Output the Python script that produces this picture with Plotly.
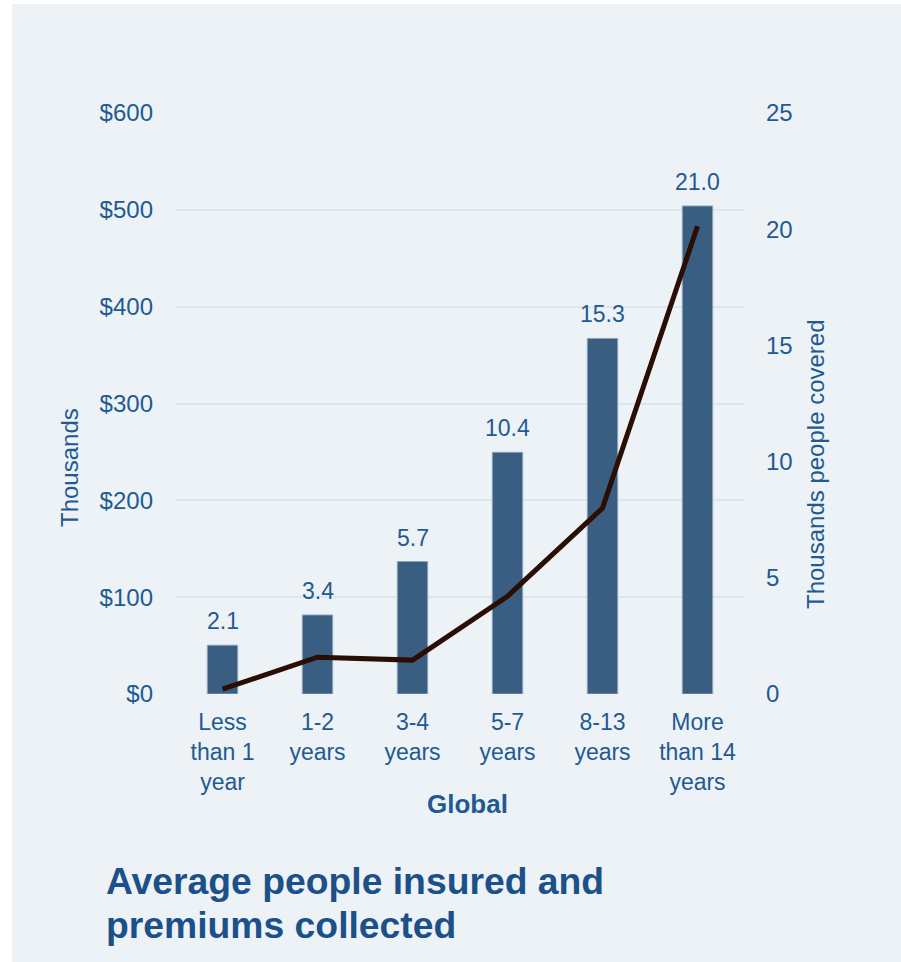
import plotly.graph_objects as go

categories = ["Less<br>than 1<br>year", "1-2<br>years", "3-4<br>years", "5-7<br>years", "8-13<br>years", "More<br>than 14<br>years"]
people_covered = [2.1, 3.4, 5.7, 10.4, 15.3, 21.0]          # thousands (right axis)
premiums = [5, 38, 35, 101, 192, 483]                        # $ thousands (left axis)
left_ticks = [0, 100, 200, 300, 400, 500, 600]
right_ticks = [0, 5, 10, 15, 20, 25]

TXT = "#1F5A92"
BG = "#EDF2F7"
FONT = "Liberation Sans, Arial, sans-serif"
FS = 23

# plot area spans page x 175-745, y 113-694
W, H = 901, 962
L, T = 175, 113
PW, PH = 570, 581
R, B = W - L - PW, H - T - PH

def px(xpage):
    return (xpage - L) / PW

def py(ypage):
    return (T + PH - ypage) / PH

fig = go.Figure()
fig.add_trace(go.Bar(
    x=categories, y=people_covered, yaxis="y",
    marker=dict(color="#3A5E81", line=dict(color="#8EA5BD", width=1)),
    showlegend=False, hoverinfo="skip",
))
fig.add_trace(go.Scatter(
    x=categories, y=premiums, yaxis="y2", mode="lines",
    line=dict(color="#2A0D03", width=5), showlegend=False,
))

annotations = [
    dict(text=f"{v:.1f}", x=c, y=v, xref="x", yref="y", yanchor="bottom",
         yshift=9, showarrow=False, font=dict(size=FS, color=TXT))
    for c, v in zip(categories, people_covered)
]
annotations += [
    dict(text="Thousands", xref="paper", yref="paper", x=px(70), y=py(468),
         xanchor="center", yanchor="middle",
         textangle=-90, showarrow=False, font=dict(size=24, color=TXT)),
    dict(text="Thousands people covered", xref="paper", yref="paper", x=px(815),
         y=py(464), xanchor="center", yanchor="middle",
         textangle=-90, showarrow=False, font=dict(size=24, color=TXT)),
    dict(text="<b>Global</b>", xref="paper", yref="paper", x=px(467), y=py(804),
         xanchor="center", yanchor="middle", showarrow=False,
         font=dict(size=26, color=TXT)),
    dict(text="<b>Average people insured and</b>", xref="paper", yref="paper",
         x=px(104), y=py(881), xanchor="left", yanchor="middle", showarrow=False,
         font=dict(size=37.3, color="#1B5089")),
    dict(text="<b>premiums collected</b>", xref="paper", yref="paper",
         x=px(104), y=py(925), xanchor="left", yanchor="middle", showarrow=False,
         font=dict(size=37.3, color="#1B5089")),
]

fig.update_layout(
    width=W, height=H,
    margin=dict(l=L, r=R, t=T, b=B, autoexpand=False),
    paper_bgcolor=BG, plot_bgcolor=BG,
    font=dict(family=FONT, color=TXT, size=FS),
    bargap=0.68,
    xaxis=dict(showgrid=False, zeroline=False, showline=False,
               tickfont=dict(size=FS, color=TXT), ticklabelstandoff=12),
    yaxis=dict(side="right", range=[0, 25], tickvals=right_ticks, showgrid=False,
               zeroline=False, showline=False, tickfont=dict(size=24, color=TXT),
               ticklabelstandoff=20),
    yaxis2=dict(side="left", overlaying="y", range=[0, 600],
                tickvals=left_ticks, ticktext=[f"${v}" for v in left_ticks],
                showgrid=True, gridcolor="#DCE6EF", gridwidth=1.5,
                zeroline=False, showline=False, tickfont=dict(size=24, color=TXT),
                ticklabelstandoff=21),
    shapes=[
        dict(type="rect", xref="paper", yref="paper", x0=-L / PW, x1=(12 - L) / PW,
             y0=-B / PH, y1=1 + T / PH, fillcolor="white", line=dict(width=0), layer="below"),
        dict(type="rect", xref="paper", yref="paper", x0=-L / PW, x1=1 + R / PW,
             y0=1 + (T - 4) / PH, y1=1 + T / PH, fillcolor="white", line=dict(width=0), layer="below"),
    ],
    annotations=annotations,
)

fig.write_html("out.html", config={"displayModeBar": False},
               post_script="document.body.style.margin='0';document.body.style.overflow='hidden';")
